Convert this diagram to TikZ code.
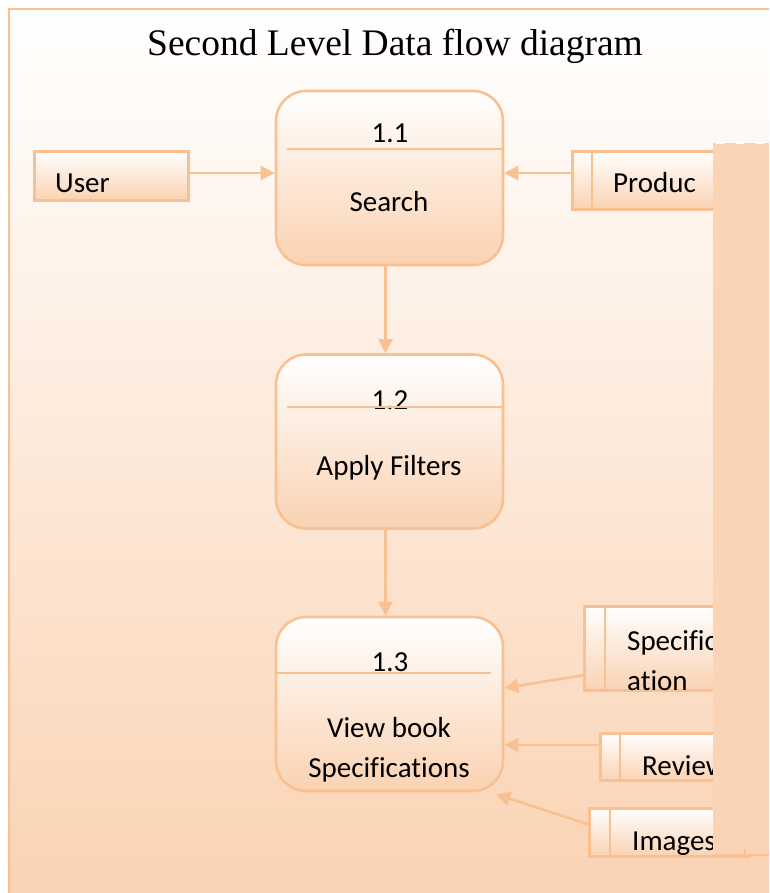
\documentclass[tikz,border=0pt]{standalone}
\usepackage{fontspec}
\setmainfont{Carlito}[Ligatures=NoCommon]
\newfontfamily\titlefont{Liberation Serif}
\usetikzlibrary{arrows.meta}

\definecolor{dfdline}{RGB}{249,192,145}
\definecolor{dfdpeach}{RGB}{250,210,178}
\definecolor{dfdcover}{RGB}{250,212,181}

\tikzset{
  proc/.style={draw=dfdline, line width=2.6pt, rounded corners=30pt, top color=white, bottom color=dfdpeach, minimum width=227pt, minimum height=174pt, inner sep=0pt},
  store/.style={draw=dfdline, line width=2.6pt, top color=white, bottom color=dfdpeach, inner sep=0pt},
  sep/.style={dfdline, line width=2.6pt},
  flow/.style={draw=dfdline, line width=2.6pt, -{Triangle[length=14pt,width=14pt]}},
  lbl/.style={font=\fontsize{29}{35}\selectfont, inner sep=0pt},
}

\begin{document}
\begin{tikzpicture}[x=1pt,y=1pt,yscale=-1]
\useasboundingbox (0,0) rectangle (769,893);
\clip (0,0) rectangle (769,893);

%Frame
\draw [draw=dfdline, line width=2.6pt, top color=white, bottom color=dfdpeach] (9,9) rectangle (790,910);

% Title
\node (title) at (395,46) {\titlefont\fontsize{37.5}{44}\selectfont Second Level Data flow diagram};

%Processes
\node [proc] (p1) at (389.5,178) {};
\node [proc] (p2) at (389.5,441.5) {};
\node [proc] (p3) at (389.5,704) {};
\draw [sep] (287,149) -- (p1.east |- 0,149);
\draw [sep] (p3.west |- 0,673) -- (491,673);

% Text Node
\node [lbl, anchor=base] (n1) at (390,143) {1.1};
\node [lbl, anchor=base] (t1) at (389,212) {Search};
\node [lbl, anchor=base] (n2) at (390,409) {1.2};
\draw [sep] (287,407) -- (p2.east |- 0,407);
\node [lbl, anchor=base] (t2) at (389,475) {Apply Filters};
\node [lbl, anchor=base] (n3) at (390,671) {1.3};
\node [lbl, anchor=base] (t3a) at (389,737) {View book};
\node [lbl, anchor=base] (t3b) at (389,777) {Specifications};

%Data stores
\node [store, minimum width=154pt, minimum height=49pt, anchor=north west] (user) at (33,150) {};
\node [lbl, anchor=base west] (userlbl) at (55,193) {User};

\node [store, minimum width=170pt, minimum height=58pt, anchor=north west] (product) at (571,150) {};
\draw [sep] (592,150) -- (592,208);
\node [lbl, anchor=base west] (productlbl) at (613,193) {Produc};

\node [store, minimum width=160pt, minimum height=84pt, anchor=north west] (spec) at (583,605) {};
\draw [sep] (605,605) -- (605,689);
\node [lbl, anchor=base west] (speclbla) at (627,650) {Specific};
\node [lbl, anchor=base west] (speclblb) at (627,690) {ation};

\node [store, minimum width=150pt, minimum height=47pt, anchor=north west] (review) at (599,732) {};
\draw [sep] (620,732) -- (620,779);
\node [lbl, anchor=base west] (reviewlbl) at (642,775) {Review};

\node [store, minimum width=160pt, minimum height=48pt, anchor=north west] (images) at (588,807) {};
\draw [sep] (610,807) -- (610,855);
\node [lbl, anchor=base west] (imageslbl) at (632,850) {Images};

%Flows
\draw [flow] (user.east |- 0,173) -- (p1.west |- 0,173);
\draw [flow] (product.west |- 0,173) -- (p1.east |- 0,173);
\draw [flow] ([xshift=-4pt]p1.south) -- ([xshift=-4pt]p2.north);
\draw [flow] ([xshift=-4pt]p2.south) -- ([xshift=-4pt]p3.north);
\draw [flow] ([yshift=27pt]spec.west) -- ([yshift=-16pt]p3.east);
\draw [flow] (review.west |- 0,745) -- (p3.east |- 0,745);
\draw [flow] ([yshift=-8pt]images.west) -- ([xshift=-8pt,yshift=2pt]p3.south east);

%Cover on the right
\fill [dfdcover] (713,143) rectangle (769,855);
\draw [white, line width=1.5pt, dash pattern=on 8pt off 12pt] (716,143) -- (769,143);
\draw [sep] (713,855) -- (769,855);
\draw [dfdline, line width=1.5pt] (745,855) -- (745,849);

\end{tikzpicture}
\end{document}
